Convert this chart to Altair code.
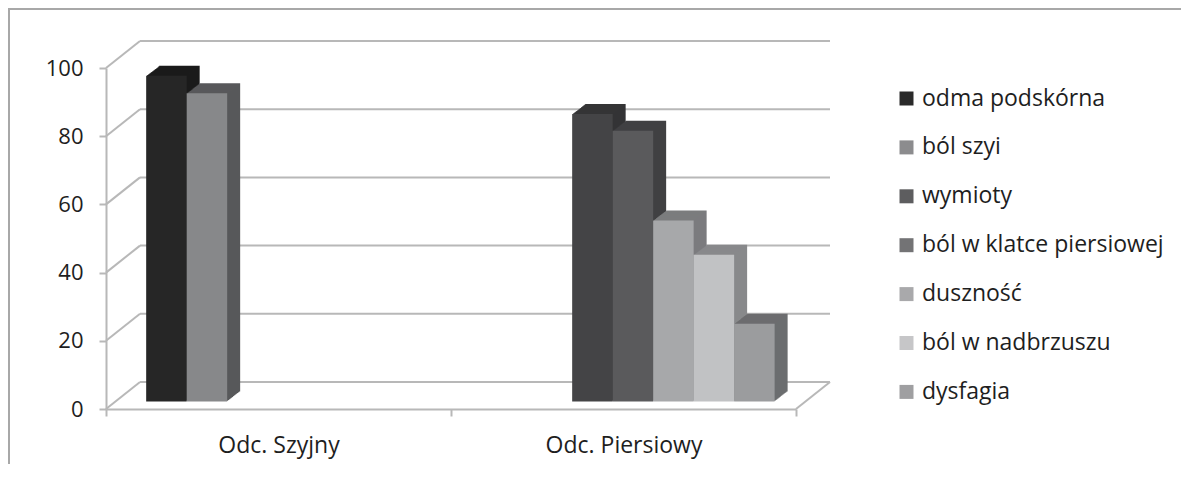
import altair as alt
import pandas as pd

# ---------------- data ----------------
categories = ["Odc. Szyjny", "Odc. Piersiowy"]
series = ["odma podskórna", "ból szyi", "wymioty", "ból w klatce piersiowej",
          "duszność", "ból w nadbrzuszu", "dysfagia"]
szyjny = [95.5, 90.4, 0, 0, 0, 0, 0]
piersiowy = [0, 0, 84.3, 79.4, 53.1, 43.0, 22.8]
y_ticks = [0, 20, 40, 60, 80, 100]

# ---------------- styles ----------------
front_colors = ["#262626", "#87888a", "#444446", "#5a5a5c", "#a7a8aa", "#c1c2c4", "#9b9c9e"]
side_colors = ["#1b1b1b", "#58595b", "#343436", "#414143", "#7b7c7e", "#88898b", "#6c6d6f"]
legend_colors = ["#2a2a2a", "#8c8c8e", "#5d5d5f", "#737375", "#a9a9ab", "#c6c6c8", "#9f9fa1"]
line_col = "#b8b8b8"
text_col = "#1e1e1e"
FONT = "Open Sans"

W, H = 690, 341            # front plane of the plot
BAND = W / len(categories)
WALL_DX, WALL_DY = 34, 27  # depth of the 3D box
BAR_DX, BAR_DY = 9.4, 7.5  # bars sit in the middle of the depth
DEPTH_X, DEPTH_Y = 13, 10  # depth of each bar

rows = []
for cat, vals in zip(categories, [szyjny, piersiowy]):
    for s, v in zip(series, vals):
        rows.append({"cat": cat, "series": s, "value": v})
bars_df = pd.DataFrame(rows)
grid_df = pd.DataFrame({"value": y_ticks})
zero_df = pd.DataFrame({"value": [0]})
one_df = pd.DataFrame({"k": [0]})

x_enc = alt.X("cat:N", sort=categories, title=None,
              scale=alt.Scale(domain=categories, paddingInner=0, paddingOuter=0),
              axis=alt.Axis(labelAngle=0, tickBand="extent", tickSize=7,
                            labelPadding=18, labelFontSize=23, labelFont=FONT,
                            labelColor=text_col, domainColor=line_col, tickColor=line_col,
                            domainWidth=2, tickWidth=2, grid=False))
y_enc = alt.Y("value:Q", title=None,
              scale=alt.Scale(domain=[0, 100], nice=False, zero=True),
              axis=alt.Axis(values=y_ticks, tickSize=7, labelPadding=16, labelFontSize=22,
                            labelFont=FONT, labelColor=text_col, domainColor=line_col,
                            tickColor=line_col, domainWidth=2, tickWidth=2, grid=False))


def xoff(shift):
    return alt.XOffset("series:N", sort=series,
                       scale=alt.Scale(domain=series, range=[shift, shift + BAND],
                                       paddingInner=0, paddingOuter=0.76))


layers = []

# outer frame
layers.append(
    alt.Chart(one_df).mark_rect(fillOpacity=0, stroke="#a8a8a8", strokeWidth=2).encode(
        x=alt.value(-97), x2=alt.value(1300), y=alt.value(-59), y2=alt.value(700))
)

# back wall gridlines
layers.append(
    alt.Chart(grid_df).mark_rule(yOffset=-WALL_DY, y2Offset=-WALL_DY, color=line_col, strokeWidth=2).encode(
        y=y_enc, x=alt.value(WALL_DX), x2=alt.value(W + WALL_DX))
)
# left wall diagonals
layers.append(
    alt.Chart(grid_df).mark_rule(y2Offset=-WALL_DY, color=line_col, strokeWidth=2).encode(
        y=y_enc, y2=alt.Y2("value:Q"), x=alt.value(0), x2=alt.value(WALL_DX))
)
# floor right diagonal
layers.append(
    alt.Chart(zero_df).mark_rule(y2Offset=-WALL_DY, color=line_col, strokeWidth=2).encode(
        y=y_enc, y2=alt.Y2("value:Q"), x=alt.value(W), x2=alt.value(W + WALL_DX))
)

# bar depth (top + side faces), drawn from the back to the front
for k in range(DEPTH_X, 0, -1):
    dy = BAR_DY + k * DEPTH_Y / DEPTH_X
    layers.append(
        alt.Chart(bars_df).transform_filter("datum.value > 0").mark_bar(
            yOffset=-dy, y2Offset=-dy).encode(
            x=x_enc, xOffset=xoff(BAR_DX + k), y=y_enc,
            color=alt.Color("series:N", sort=series, legend=None,
                            scale=alt.Scale(domain=series, range=side_colors)))
    )

# bar front faces
layers.append(
    alt.Chart(bars_df).transform_filter("datum.value > 0").mark_bar(
        yOffset=-BAR_DY, y2Offset=-BAR_DY).encode(
        x=x_enc, xOffset=xoff(BAR_DX), y=y_enc,
        color=alt.Color("series:N", sort=series, legend=None,
                        scale=alt.Scale(domain=series, range=front_colors)))
)

# legend carrier (invisible marks)
layers.append(
    alt.Chart(bars_df).mark_square(opacity=0, size=0).encode(
        x=x_enc, y=y_enc,
        color=alt.Color("series:N", sort=series,
                        scale=alt.Scale(domain=series, range=legend_colors),
                        legend=alt.Legend(title=None, orient="none", legendX=789, legendY=19,
                                          symbolType="square", symbolSize=196, symbolOpacity=1,
                                          symbolStrokeWidth=0, labelFont=FONT, labelFontSize=23,
                                          labelColor=text_col, labelOffset=4, rowPadding=24.9,
                                          padding=0, labelLimit=400)))
)

chart = alt.layer(*layers).resolve_scale(color="independent", xOffset="independent").properties(
    width=W, height=H,
    autosize=alt.AutoSizeParams(type="none"),
    padding={"left": 98, "top": 60, "right": 385, "bottom": 55},
    background="white",
).configure_view(stroke=None)

chart.save("out.html", embed_options={"renderer": "svg", "actions": False})
